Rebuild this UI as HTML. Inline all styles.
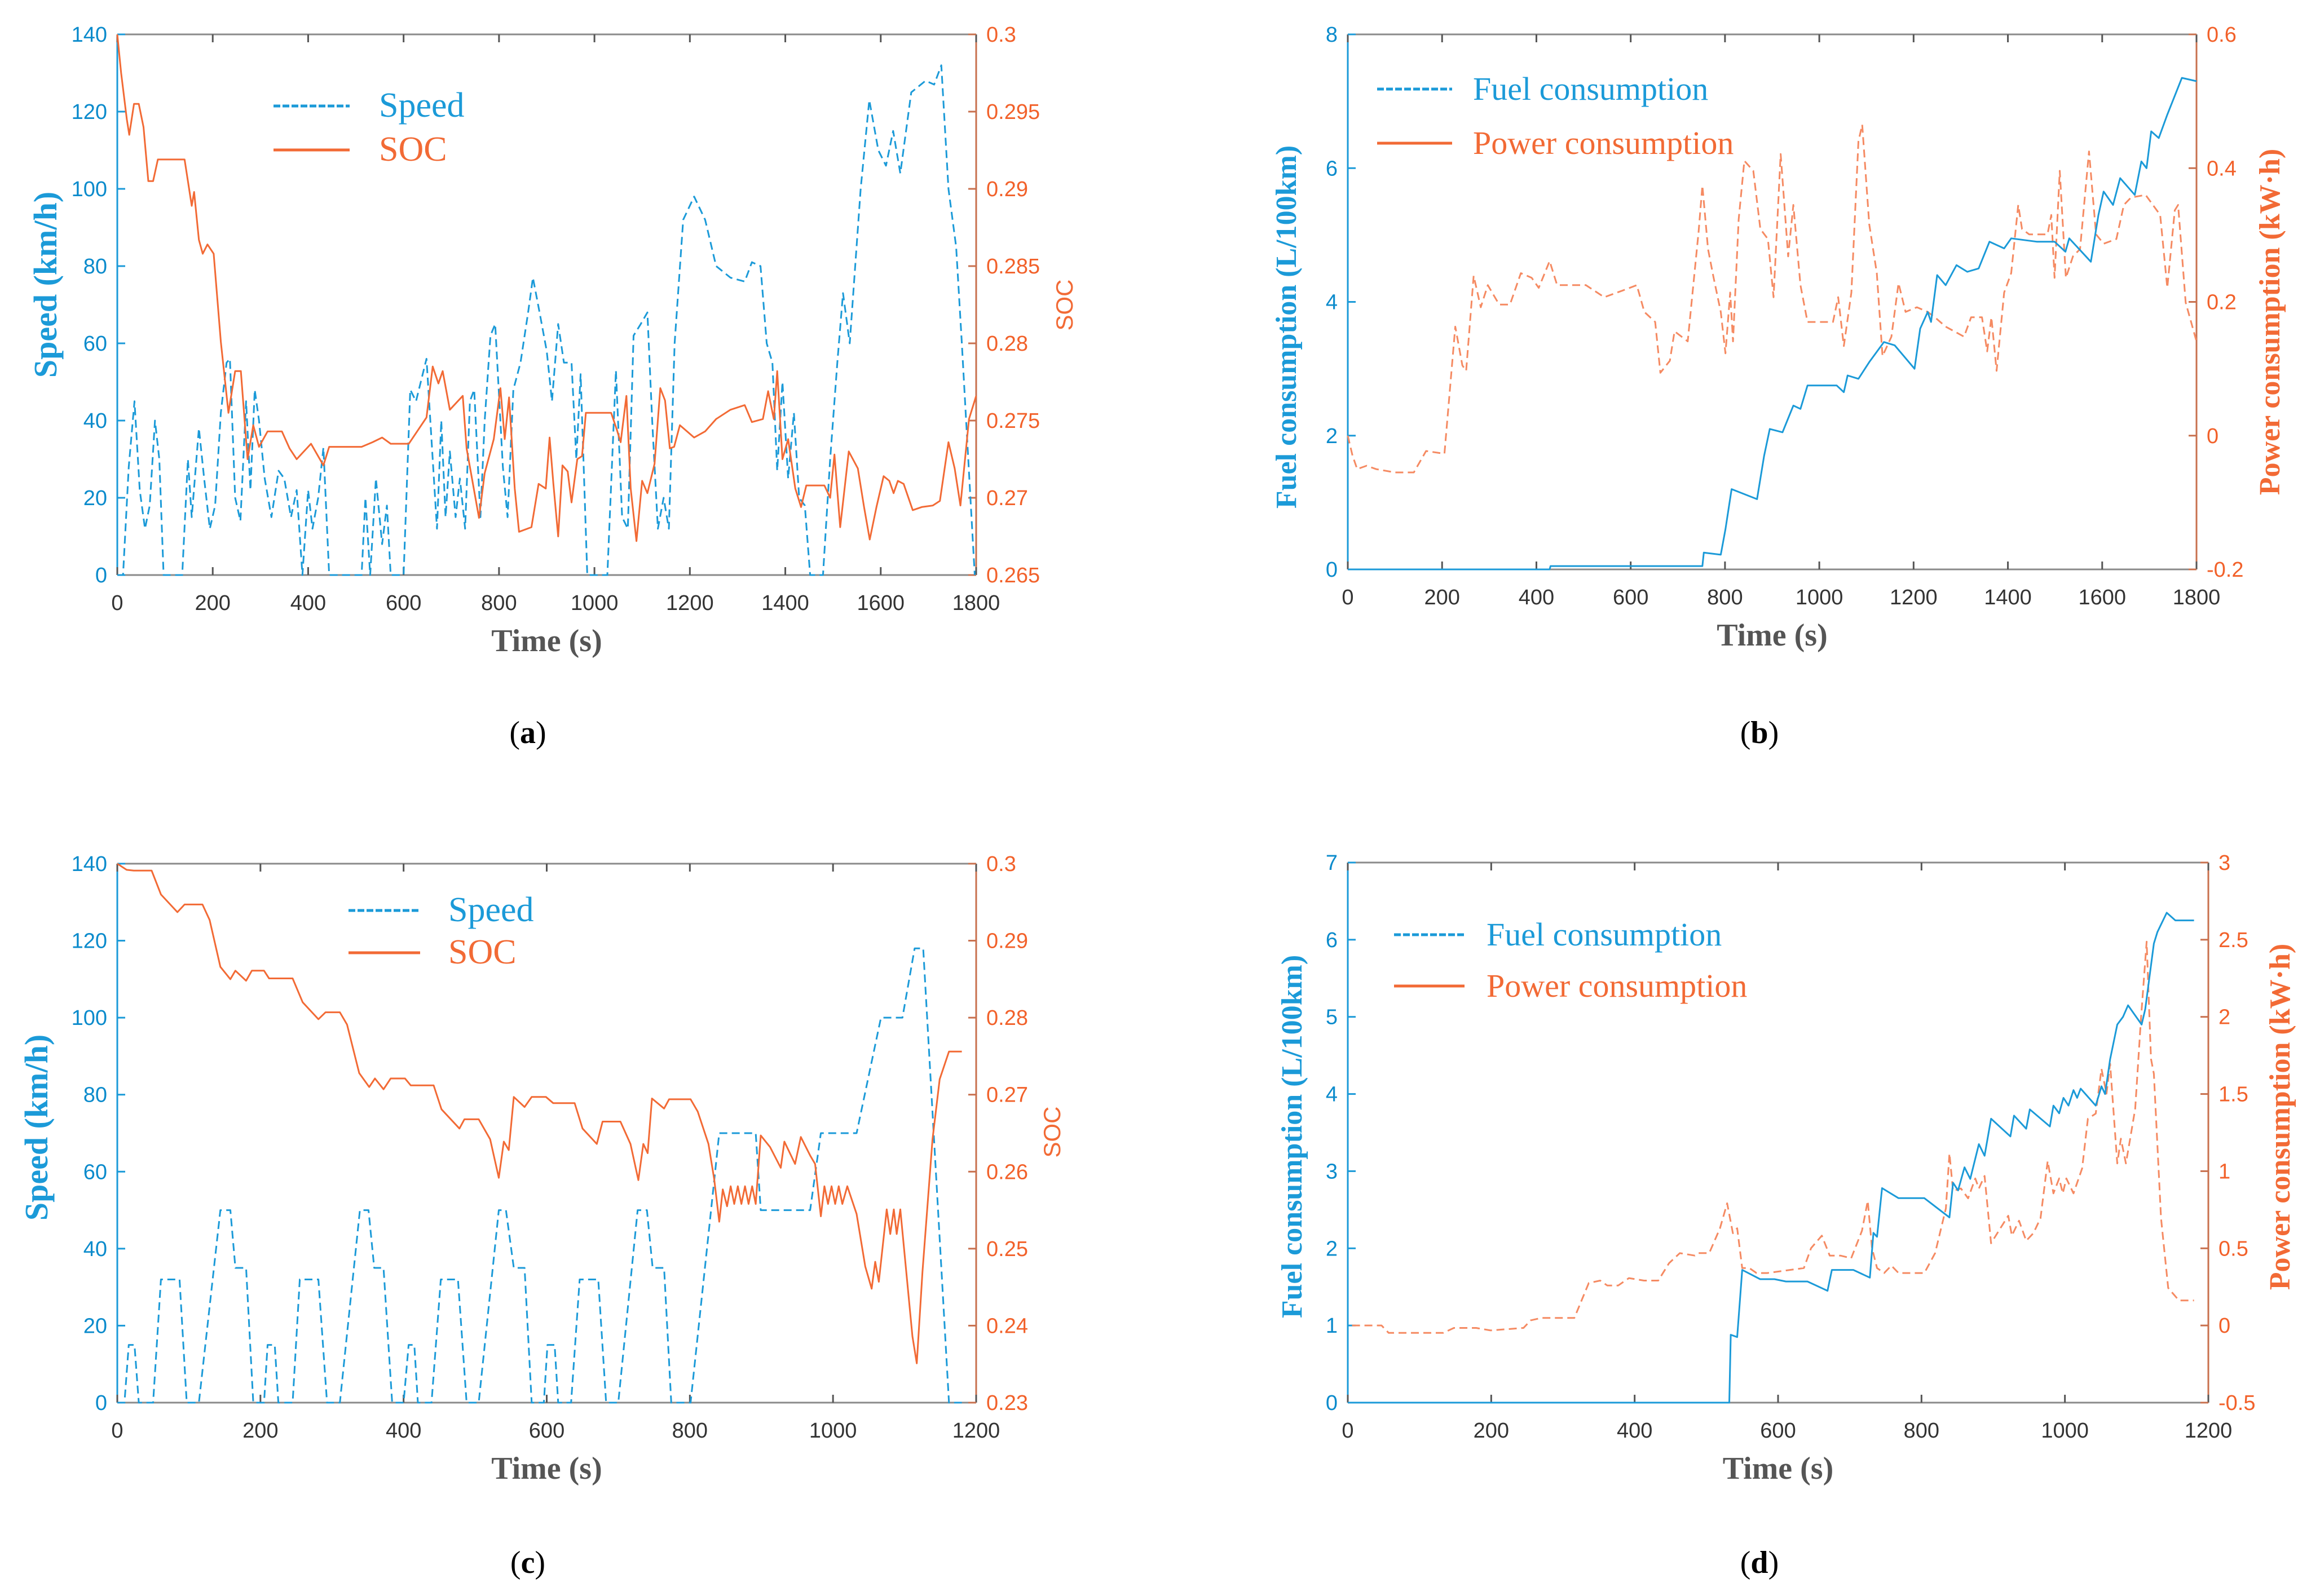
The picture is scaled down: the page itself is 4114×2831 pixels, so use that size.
<!DOCTYPE html>
<html><head><meta charset="utf-8">
<style>
html,body{margin:0;padding:0;background:#fff;}
svg{display:block;}
</style></head>
<body>
<svg id="fig" width="4114" height="2831" viewBox="0 0 4114 2831" xmlns="http://www.w3.org/2000/svg"></svg>
<script>
// ---------- Panel (a) data ----------
const aSpeedT=[0,12,24,36,47,58,68,79,88,97,136,148,156,171,182,194,205,217,229,236,247,258,270,279,288,297,309,323,338,350,364,376,388,400,409,421,432,444,512,520,530,542,555,565,573,600,614,626,648,661,670,679,688,697,709,718,729,739,748,761,770,782,792,808,818,830,845,861,871,885,900,911,924,936,952,962,971,985,1027,1045,1058,1070,1082,1097,1111,1121,1133,1145,1156,1168,1186,1209,1232,1255,1285,1315,1330,1348,1361,1373,1383,1394,1406,1418,1429,1441,1452,1479,1494,1509,1521,1535,1558,1576,1595,1611,1626,1641,1664,1694,1712,1727,1742,1758,1770,1788,1797];
const aSpeedV=[0,0,28,45,22,12,18,40,30,0,0,30,15,38,25,12,18,42,55,56,20,14,45,22,48,40,25,15,27,25,15,22,0,22,12,20,33,0,0,20,0,25,8,18,0,0,48,45,56,30,12,40,15,32,15,25,12,45,48,15,40,62,65,28,15,48,55,68,77,68,58,45,65,55,55,30,52,0,0,53,15,12,62,65,68,40,12,20,12,60,92,98,92,80,77,76,81,80,60,55,27,50,25,42,20,18,0,0,30,55,73,60,100,123,110,106,115,104,125,128,127,132,100,85,60,20,0];
const aSocT=[0,8,20,25,35,45,55,65,75,85,141,156,161,171,179,189,202,217,233,247,259,273,285,297,315,345,361,376,406,432,444,512,535,555,573,611,648,661,673,682,697,724,732,758,770,789,803,812,821,833,842,868,883,898,906,914,924,933,944,952,964,974,982,1035,1047,1055,1067,1076,1088,1100,1111,1126,1138,1148,1158,1167,1179,1209,1232,1255,1285,1315,1330,1353,1364,1376,1383,1394,1406,1421,1433,1444,1482,1494,1503,1515,1533,1552,1565,1577,1591,1606,1618,1627,1636,1648,1667,1686,1709,1724,1742,1755,1767,1785,1800];
const aSocV=[0.300,0.2975,0.2945,0.2935,0.2955,0.2955,0.2940,0.2905,0.2905,0.2919,0.2919,0.2889,0.2898,0.2867,0.2858,0.2864,0.2858,0.2801,0.2755,0.2782,0.2782,0.2725,0.2747,0.2733,0.2743,0.2743,0.2732,0.2725,0.2735,0.2721,0.2733,0.2733,0.2736,0.2739,0.2735,0.2735,0.2752,0.2785,0.2774,0.2782,0.2757,0.2766,0.2732,0.2687,0.2716,0.2738,0.2771,0.2738,0.2765,0.2706,0.2678,0.2681,0.2709,0.2706,0.2739,0.2709,0.2675,0.2721,0.2717,0.2697,0.2725,0.2727,0.2755,0.2755,0.2744,0.2736,0.2766,0.2706,0.2672,0.2711,0.2703,0.2722,0.2771,0.2763,0.2732,0.2733,0.2747,0.2739,0.2743,0.2751,0.2757,0.2760,0.2749,0.2751,0.2769,0.2751,0.2782,0.2725,0.2738,0.2706,0.2694,0.2708,0.2708,0.2700,0.2728,0.2681,0.2730,0.2719,0.2694,0.2673,0.2694,0.2714,0.2711,0.2703,0.2711,0.2709,0.2692,0.2694,0.2695,0.2698,0.2736,0.2719,0.2695,0.2751,0.2766];
const aXTicks=[0,200,400,600,800,1000,1200,1400,1600,1800];
const aYTicks=[0,20,40,60,80,100,120,140];
const aY2Ticks=[0.265,0.27,0.275,0.28,0.285,0.29,0.295,0.3];
const aY2Labels=["0.265","0.27","0.275","0.28","0.285","0.29","0.295","0.3"];

// ---------- Panel (b) data ----------
const bFuelT=[0,428,430,752,755,791,801,814,868,883,895,922,945,960,975,1037,1052,1060,1083,1106,1137,1160,1202,1214,1230,1237,1250,1268,1291,1314,1338,1361,1392,1407,1461,1499,1522,1530,1576,1592,1603,1623,1638,1669,1683,1694,1704,1720,1738,1769,1800];
const bFuelV=[0,0,0.05,0.05,0.25,0.22,0.6,1.2,1.05,1.7,2.1,2.05,2.45,2.4,2.75,2.75,2.65,2.9,2.85,3.1,3.4,3.35,3.0,3.6,3.85,3.7,4.4,4.25,4.55,4.45,4.5,4.9,4.8,4.95,4.9,4.9,4.75,4.95,4.6,5.3,5.65,5.45,5.85,5.6,6.1,6.0,6.55,6.45,6.8,7.35,7.3];
const bPowT=[0,10,20,40,60,100,140,166,205,228,243,251,267,282,297,321,344,367,390,405,428,444,505,544,583,613,629,652,663,683,693,721,744,752,764,775,791,801,811,817,829,841,860,875,891,903,918,934,945,960,975,1029,1040,1052,1068,1083,1091,1106,1122,1134,1153,1168,1183,1207,1230,1245,1268,1307,1322,1345,1356,1365,1376,1392,1407,1422,1430,1445,1484,1492,1499,1510,1523,1538,1553,1572,1587,1603,1630,1646,1661,1692,1723,1738,1754,1761,1777,1800];
const bPowV=[0.0,-0.03,-0.05,-0.045,-0.05,-0.055,-0.055,-0.023,-0.027,0.163,0.105,0.097,0.239,0.192,0.225,0.196,0.196,0.243,0.236,0.221,0.261,0.225,0.225,0.207,0.217,0.225,0.185,0.170,0.094,0.112,0.156,0.141,0.305,0.374,0.279,0.239,0.185,0.123,0.214,0.141,0.323,0.411,0.396,0.309,0.294,0.207,0.421,0.268,0.345,0.225,0.170,0.170,0.207,0.134,0.214,0.440,0.465,0.316,0.243,0.119,0.148,0.228,0.185,0.192,0.185,0.177,0.163,0.148,0.177,0.177,0.126,0.177,0.097,0.214,0.243,0.345,0.309,0.301,0.301,0.330,0.236,0.396,0.236,0.268,0.279,0.425,0.301,0.287,0.294,0.345,0.356,0.360,0.330,0.221,0.337,0.345,0.199,0.141];
const bXTicks=[0,200,400,600,800,1000,1200,1400,1600,1800];
const bYTicks=[0,2,4,6,8];
const bY2Ticks=[-0.2,0,0.2,0.4,0.6];
const bY2Labels=["-0.2","0","0.2","0.4","0.6"];

// ---------- Panel (c) data ----------
const cSpeedT=[0,10,16,24,30,50,61,87,97,114,144,158,165,180,190,205,210,220,225,245,255,281,293,311,339,351,359,372,384,400,407,415,420,439,452,476,488,505,533,543,554,569,579,596,601,611,616,634,646,672,683,700,727,740,748,764,774,801,841,892,899,968,983,1033,1067,1097,1114,1126,1162,1180];
const cSpeedV=[0,0,15,15,0,0,32,32,0,0,50,50,35,35,0,0,15,15,0,0,32,32,0,0,50,50,35,35,0,0,15,15,0,0,32,32,0,0,50,50,35,35,0,0,15,15,0,0,32,32,0,0,50,50,35,35,0,0,70,70,50,50,70,70,100,100,118,118,0,0];
const cSocT=[0,13,23,48,61,84,94,119,129,144,158,165,180,188,205,212,245,259,281,291,311,321,338,352,360,372,382,402,410,442,453,478,485,505,521,533,540,547,554,569,579,599,609,639,650,670,678,703,717,728,735,741,747,764,771,801,811,826,834,841,846,852,857,862,867,872,877,882,887,892,899,912,927,932,947,955,968,975,983,988,993,998,1003,1008,1013,1020,1033,1045,1054,1059,1064,1075,1080,1085,1089,1094,1111,1117,1125,1139,1149,1162,1180];
const cSocV=[0.300,0.2992,0.2991,0.2991,0.2960,0.2937,0.2947,0.2947,0.2927,0.2866,0.2850,0.2861,0.2848,0.2861,0.2861,0.2851,0.2851,0.2820,0.2798,0.2807,0.2807,0.2791,0.2728,0.2710,0.2721,0.2707,0.2721,0.2721,0.2712,0.2712,0.2681,0.2656,0.2668,0.2668,0.2642,0.2592,0.2639,0.2628,0.2697,0.2684,0.2697,0.2697,0.2689,0.2689,0.2656,0.2636,0.2665,0.2665,0.2636,0.2589,0.2636,0.2624,0.2695,0.2682,0.2694,0.2694,0.2678,0.2636,0.2590,0.2535,0.2577,0.2555,0.2581,0.2558,0.2581,0.2558,0.2581,0.2558,0.2581,0.2558,0.2647,0.2632,0.2605,0.2639,0.2610,0.2645,0.2621,0.2610,0.2542,0.2581,0.2558,0.2581,0.2558,0.2581,0.2558,0.2581,0.2545,0.2477,0.2448,0.2483,0.2457,0.2551,0.2519,0.2551,0.2519,0.2551,0.2386,0.2351,0.2470,0.2642,0.2720,0.2756,0.2756];
const cXTicks=[0,200,400,600,800,1000,1200];
const cYTicks=[0,20,40,60,80,100,120,140];
const cY2Ticks=[0.23,0.24,0.25,0.26,0.27,0.28,0.29,0.3];
const cY2Labels=["0.23","0.24","0.25","0.26","0.27","0.28","0.29","0.3"];

// ---------- Panel (d) data ----------
const dFuelT=[0,532,534,543,550,575,595,611,641,669,675,705,728,733,738,745,768,804,839,844,851,860,868,880,888,897,924,929,946,951,979,984,992,998,1005,1012,1017,1022,1043,1051,1056,1063,1073,1081,1088,1107,1112,1124,1129,1142,1154,1180];
const dFuelV=[0,0,0.88,0.85,1.72,1.6,1.6,1.57,1.57,1.45,1.72,1.72,1.62,2.2,2.15,2.78,2.65,2.65,2.4,2.85,2.75,3.05,2.9,3.35,3.2,3.68,3.45,3.72,3.55,3.8,3.58,3.85,3.75,3.95,3.85,4.05,3.95,4.07,3.85,4.1,4.0,4.45,4.9,5.0,5.15,4.9,5.1,5.95,6.1,6.35,6.25,6.25];
const dPowT=[6,47,57,77,133,148,179,199,245,255,270,280,316,336,352,362,377,392,413,433,448,463,484,489,504,519,529,537,543,550,560,570,585,636,646,661,672,687,702,717,725,731,738,748,758,768,804,819,834,839,844,855,865,875,880,888,897,910,921,926,936,946,956,966,976,984,992,997,1002,1012,1024,1032,1043,1051,1058,1063,1073,1078,1085,1091,1098,1106,1114,1120,1124,1134,1144,1159,1180];
const dPowV=[0,0,-0.048,-0.048,-0.048,-0.016,-0.016,-0.032,-0.016,0.033,0.049,0.049,0.049,0.275,0.291,0.259,0.259,0.307,0.291,0.291,0.404,0.469,0.453,0.469,0.469,0.630,0.792,0.598,0.630,0.372,0.372,0.340,0.340,0.372,0.501,0.582,0.453,0.453,0.436,0.614,0.808,0.501,0.372,0.340,0.388,0.340,0.340,0.469,0.759,1.115,0.872,0.888,0.824,0.953,0.888,0.969,0.533,0.630,0.711,0.582,0.679,0.549,0.598,0.695,1.066,0.856,0.953,0.856,0.953,0.856,1.018,1.340,1.373,1.663,1.502,1.696,1.050,1.211,1.050,1.211,1.405,1.986,2.487,1.728,1.631,0.695,0.243,0.162,0.162];
const dXTicks=[0,200,400,600,800,1000,1200];
const dYTicks=[0,1,2,3,4,5,6,7];
const dY2Ticks=[-0.5,0,0.5,1,1.5,2,2.5,3];
const dY2Labels=["-0.5","0","0.5","1","1.5","2","2.5","3"];

const NS="http://www.w3.org/2000/svg";
const svg=document.getElementById('fig');
const BLUE="#1b9ad8", BLUET="#0b8bcc", ORANGE="#f26a35", ORANGED="#f58a62", ORT="#f2612a";
function el(tag,attrs,parent){const e=document.createElementNS(NS,tag);for(const k in attrs)e.setAttribute(k,attrs[k]);(parent||svg).appendChild(e);return e;}

function panel(p){
  const g=el('g',{});
  
  
  const sx=v=>p.x0+(v-p.xmin)/(p.xmax-p.xmin)*(p.x1-p.x0);
  const sy=v=>p.y1-(v-p.ymin)/(p.ymax-p.ymin)*(p.y1-p.y0);
  const sy2=v=>p.y1-(v-p.y2min)/(p.y2max-p.y2min)*(p.y1-p.y0);
  const top=el('line',{x1:p.x0,y1:p.y0,x2:p.x1,y2:p.y0,stroke:'#8a8a8a','stroke-width':3},g);
  
  const bot=el('line',{x1:p.x0,y1:p.y1,x2:p.x1,y2:p.y1,stroke:'#8a8a8a','stroke-width':3},g);
  
  const la=el('line',{x1:p.x0,y1:p.y0,x2:p.x0,y2:p.y1,stroke:BLUE,'stroke-width':3},g);
  
  const ra=el('line',{x1:p.x1,y1:p.y0,x2:p.x1,y2:p.y1,stroke:'#c8704e','stroke-width':3},g);
  
  p.xt.forEach(v=>{
    const x=sx(v);
    el('line',{x1:x,y1:p.y1,x2:x,y2:p.y1-14,stroke:'#555','stroke-width':3},g);
    el('line',{x1:x,y1:p.y0,x2:x,y2:p.y0+14,stroke:'#555','stroke-width':3},g);
    const t=el('text',{x:x,y:p.y1+62,'text-anchor':'middle','font-family':'Liberation Sans, sans-serif','font-size':38,fill:'#333'},g);
    t.textContent=v;
    
  });
  p.yt.forEach(v=>{
    const y=sy(v);
    el('line',{x1:p.x0,y1:y,x2:p.x0+14,y2:y,stroke:BLUE,'stroke-width':3},g);
    const t=el('text',{x:p.x0-18,y:y+13,'text-anchor':'end','font-family':'Liberation Sans, sans-serif','font-size':38,fill:BLUET},g);
    t.textContent=v;
    
  });
  p.y2t.forEach((v,i)=>{
    const y=sy2(v);
    el('line',{x1:p.x1,y1:y,x2:p.x1-14,y2:y,stroke:'#c8704e','stroke-width':3},g);
    const t=el('text',{x:p.x1+18,y:y+13,'text-anchor':'start','font-family':'Liberation Sans, sans-serif','font-size':38,fill:ORT},g);
    t.textContent=p.y2l[i];
    
  });
  p.series.forEach(s=>{
    const f=s.axis==2?sy2:sy;
    const d=s.t.map((t,i)=>(i?'L':'M')+sx(t).toFixed(1)+' '+f(s.v[i]).toFixed(1)).join(' ');
    const path=el('path',{d:d,fill:'none',stroke:s.color,'stroke-width':3,'stroke-dasharray':s.dash?'14 8':'none','stroke-linejoin':'round'},g);
    
    
  });
  p.legend.forEach(L=>{
    const ln=el('line',{x1:L.x1,y1:L.y,x2:L.x2,y2:L.y,stroke:L.color,'stroke-width':5,'stroke-dasharray':L.dash?'12 4':'none'},g);
    
    const t=el('text',{x:L.tx,y:L.y+19,'font-family':'Liberation Serif, serif','font-size':p.lfs,fill:L.tc},g);
    t.textContent=L.text;
    
  });
  const xt=el('text',{x:(p.x0+p.x1)/2,y:p.y1+135,'text-anchor':'middle','font-family':'Liberation Serif, serif','font-size':56,'font-weight':'bold',fill:'#555'},g);
  xt.textContent='Time (s)';
  const yl=el('text',{x:0,y:0,'text-anchor':'middle','font-family':'Liberation Serif, serif','font-size':p.yfs,'font-weight':'bold',fill:BLUE,transform:`translate(${p.ylx},${p.yly}) rotate(-90)`},g);
  yl.textContent=p.ylab;
  const yr=el('text',{x:0,y:0,'text-anchor':'middle','font-family':p.y2serif?'Liberation Serif, serif':'Liberation Sans, sans-serif','font-size':p.y2serif?p.yfs:42,'font-weight':p.y2serif?'bold':'normal',fill:ORANGE,transform:`translate(${p.y2lx},${p.y2ly}) rotate(-90)`},g);
  yr.textContent=p.y2lab;
  const pl=el('text',{x:p.lx,y:p.ly,'text-anchor':'middle','font-family':'Liberation Serif, serif','font-size':56,fill:'#000'},g);
  pl.innerHTML='(<tspan font-weight="bold">'+p.letter+'</tspan>)';
  
}

panel({id:'a',x0:208,x1:1731,y0:61,y1:1020,xmin:0,xmax:1800,ymin:0,ymax:140,y2min:0.265,y2max:0.3,
  xt:aXTicks,yt:aYTicks,y2t:aY2Ticks,y2l:aY2Labels,lfs:62,yfs:58,
  series:[{t:aSpeedT,v:aSpeedV,color:BLUE,dash:true,axis:1,name:'speed-line'},{t:aSocT,v:aSocV,color:ORANGE,dash:false,axis:2,name:'soc-line'}],
  legend:[{x1:485,x2:620,y:188,color:BLUE,dash:true,tx:672,text:'Speed',tc:BLUE},{x1:485,x2:620,y:266,color:ORANGE,dash:false,tx:672,text:'SOC',tc:ORANGE}],
  ylab:'Speed (km/h)',ylx:100,yly:505,y2lab:'SOC',y2lx:1902,y2ly:541,lx:936,ly:1318,letter:'a'});
panel({id:'b',x0:2390,x1:3895,y0:61,y1:1010,xmin:0,xmax:1800,ymin:0,ymax:8,y2min:-0.2,y2max:0.6,
  xt:bXTicks,yt:bYTicks,y2t:bY2Ticks,y2l:bY2Labels,lfs:58,yfs:52,
  series:[{t:bPowT,v:bPowV,color:ORANGED,dash:true,axis:2,name:'power-consumption-line'},{t:bFuelT,v:bFuelV,color:BLUE,dash:false,axis:1,name:'fuel-consumption-line'}],
  legend:[{x1:2442,x2:2575,y:158,color:BLUE,dash:true,tx:2612,text:'Fuel consumption',tc:BLUE},{x1:2442,x2:2575,y:254,color:ORANGE,dash:false,tx:2612,text:'Power consumption',tc:ORANGE}],
  ylab:'Fuel consumption (L/100km)',ylx:2298,yly:580,y2lab:'Power consumption (kW·h)',y2lx:4042,y2ly:571,y2serif:true,lx:3120,ly:1318,letter:'b'});
panel({id:'c',x0:208,x1:1731,y0:1532,y1:2488,xmin:0,xmax:1200,ymin:0,ymax:140,y2min:0.23,y2max:0.3,
  xt:cXTicks,yt:cYTicks,y2t:cY2Ticks,y2l:cY2Labels,lfs:62,yfs:58,
  series:[{t:cSpeedT,v:cSpeedV,color:BLUE,dash:true,axis:1,name:'speed-line'},{t:cSocT,v:cSocV,color:ORANGE,dash:false,axis:2,name:'soc-line'}],
  legend:[{x1:618,x2:745,y:1615,color:BLUE,dash:true,tx:795,text:'Speed',tc:BLUE},{x1:618,x2:745,y:1690,color:ORANGE,dash:false,tx:795,text:'SOC',tc:ORANGE}],
  ylab:'Speed (km/h)',ylx:84,yly:2000,y2lab:'SOC',y2lx:1880,y2ly:2008,lx:936,ly:2790,letter:'c'});
panel({id:'d',x0:2390,x1:3916,y0:1530,y1:2488,xmin:0,xmax:1200,ymin:0,ymax:7,y2min:-0.5,y2max:3,
  xt:dXTicks,yt:dYTicks,y2t:dY2Ticks,y2l:dY2Labels,lfs:58,yfs:52,
  series:[{t:dPowT,v:dPowV,color:ORANGED,dash:true,axis:2,name:'power-consumption-line'},{t:dFuelT,v:dFuelV,color:BLUE,dash:false,axis:1,name:'fuel-consumption-line'}],
  legend:[{x1:2472,x2:2597,y:1658,color:BLUE,dash:true,tx:2636,text:'Fuel consumption',tc:BLUE},{x1:2472,x2:2597,y:1749,color:ORANGE,dash:false,tx:2636,text:'Power consumption',tc:ORANGE}],
  ylab:'Fuel consumption (L/100km)',ylx:2308,yly:2016,y2lab:'Power consumption (kW·h)',y2lx:4060,y2ly:1981,y2serif:true,lx:3120,ly:2790,letter:'d'});
</script>
</body></html>
